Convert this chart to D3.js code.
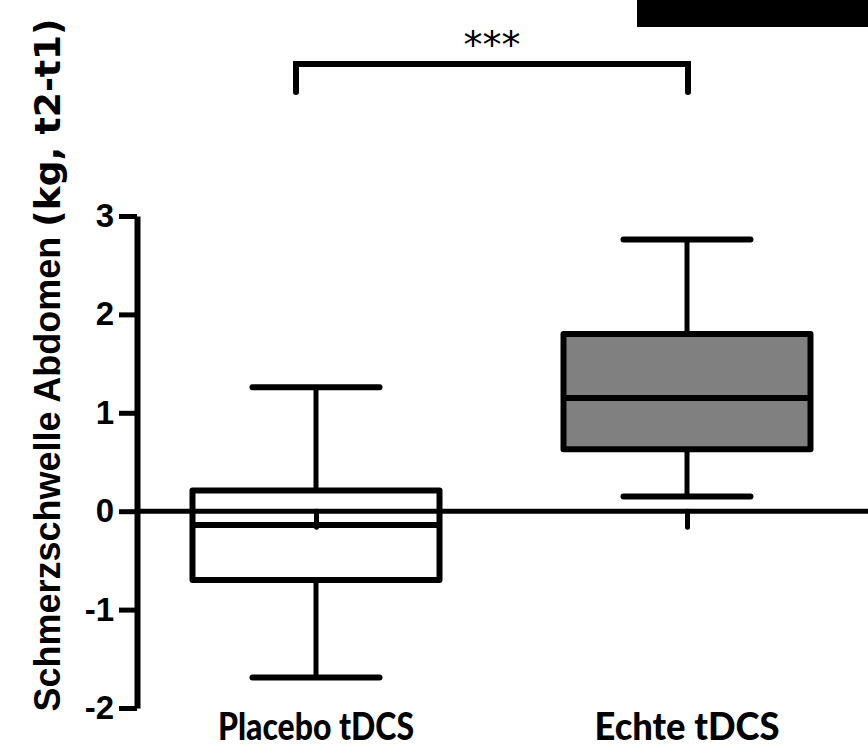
<!DOCTYPE html>
<html>
<head>
<meta charset="UTF-8">
<script src="https://d3js.org/d3.v7.min.js"></script>
<style>
  body { margin: 0; background: #fff; }
  svg { display: block; }
</style>
</head>
<body>
<div id="chart"></div>
<script>
// data
var groups = ["Placebo tDCS", "Echte tDCS"];
var whiskerLow  = [-1.69, 0.15];
var quartile1   = [-0.70, 0.63];
var medians     = [-0.14, 1.15];
var quartile3   = [0.21, 1.80];
var whiskerHigh = [1.26, 2.76];
var boxFills    = ["#ffffff", "#808080"];
var yTicks      = [-2, -1, 0, 1, 2, 3];
var yTitleMain  = "Schmerzschwelle Abdomen ";
var yTitleUnit  = "(kg, t2-t1)";
var signif      = "***";

var width = 868, height = 749;

var svg = d3.select("#chart").append("svg")
    .attr("width", width)
    .attr("height", height);

var y = d3.scaleLinear().domain([-2, 3]).range([708, 216]);
var x = d3.scalePoint().domain(groups).range([316, 687]);
var boxW = 247, capW = 127;

// black block top right
svg.append("rect")
    .attr("x", 637).attr("y", 0)
    .attr("width", width - 637).attr("height", 27)
    .attr("fill", "#000");

// boxes
var data = groups.map(function(g, i) {
    return { g: g, lo: whiskerLow[i], q1: quartile1[i], med: medians[i],
             q3: quartile3[i], hi: whiskerHigh[i], fill: boxFills[i] };
});

var box = svg.selectAll(".box").data(data).enter().append("g")
    .attr("class", "box");

box.append("line")
    .attr("x1", function(d) { return x(d.g); })
    .attr("x2", function(d) { return x(d.g); })
    .attr("y1", function(d) { return y(d.hi); })
    .attr("y2", function(d) { return y(d.lo); })
    .attr("stroke", "#000").attr("stroke-width", 5);

box.selectAll(".cap").data(function(d) { return [d, d]; }).enter().append("line")
    .attr("x1", function(d) { return x(d.g) - capW / 2; })
    .attr("x2", function(d) { return x(d.g) + capW / 2; })
    .attr("y1", function(d, i) { return y(i ? d.lo : d.hi); })
    .attr("y2", function(d, i) { return y(i ? d.lo : d.hi); })
    .attr("stroke", "#000").attr("stroke-width", 6)
    .attr("stroke-linecap", "round");

box.append("rect")
    .attr("x", function(d) { return x(d.g) - boxW / 2; })
    .attr("y", function(d) { return y(d.q3); })
    .attr("width", boxW)
    .attr("height", function(d) { return y(d.q1) - y(d.q3); })
    .attr("fill", function(d) { return d.fill; })
    .attr("stroke", "#000").attr("stroke-width", 6)
    .attr("stroke-linejoin", "round");

box.append("line")
    .attr("x1", function(d) { return x(d.g) - boxW / 2; })
    .attr("x2", function(d) { return x(d.g) + boxW / 2; })
    .attr("y1", function(d) { return y(d.med); })
    .attr("y2", function(d) { return y(d.med); })
    .attr("stroke", "#000").attr("stroke-width", 6);

// zero line with category ticks
svg.append("line")
    .attr("x1", 137).attr("x2", width)
    .attr("y1", y(0)).attr("y2", y(0))
    .attr("stroke", "#000").attr("stroke-width", 5);

var xAxis = svg.append("g")
    .attr("transform", "translate(0," + y(0) + ")")
    .call(d3.axisBottom(x).tickSize(16).tickFormat(""));
xAxis.select(".domain").remove();
xAxis.selectAll(".tick line").attr("stroke-width", 5).attr("stroke-linecap", "round");

// y axis
var yAxis = svg.append("g")
    .attr("transform", "translate(137,0)")
    .call(d3.axisLeft(y).tickValues(yTicks).tickSize(18).tickSizeOuter(0).tickPadding(5)
        .tickFormat(function(d) { return String(d); }));
yAxis.select(".domain").attr("stroke-width", 6);
yAxis.selectAll(".tick line").attr("stroke-width", 5);
yAxis.selectAll(".tick text")
    .attr("font-family", "Liberation Sans, Arial, sans-serif")
    .attr("font-weight", "bold")
    .attr("font-size", 33)
    .attr("fill", "#000");

// y title
var title = svg.append("text")
    .attr("transform", "translate(60,365) rotate(-90)")
    .attr("text-anchor", "middle")
    .attr("font-weight", "bold")
    .attr("font-size", 36);
title.append("tspan")
    .attr("font-family", "Liberation Sans, Arial, sans-serif")
    .text(yTitleMain);
title.append("tspan")
    .attr("font-family", "DejaVu Sans, sans-serif")
    .text(yTitleUnit);

// category labels
svg.selectAll(".cat").data(groups).enter().append("text")
    .attr("class", "cat")
    .attr("x", function(d) { return x(d); })
    .attr("y", 740)
    .attr("text-anchor", "middle")
    .attr("font-family", "Lato, sans-serif")
    .attr("font-weight", 900)
    .attr("font-size", 37)
    .attr("textLength", function(d, i) { return i ? 185 : 196; })
    .attr("lengthAdjust", "spacingAndGlyphs")
    .text(function(d) { return d; });

// significance bracket
var bx1 = x(groups[0]) - 20, bx2 = x(groups[1]) + 1;
svg.append("path")
    .attr("d", "M" + bx1 + ",92V64H" + bx2 + "V92")
    .attr("fill", "none")
    .attr("stroke", "#000").attr("stroke-width", 6)
    .attr("stroke-linecap", "round");

svg.append("text")
    .attr("x", (bx1 + bx2) / 2)
    .attr("y", 58)
    .attr("text-anchor", "middle")
    .attr("font-family", "DejaVu Sans, sans-serif")
    .attr("font-size", 38)
    .text(signif);
</script>
</body>
</html>
